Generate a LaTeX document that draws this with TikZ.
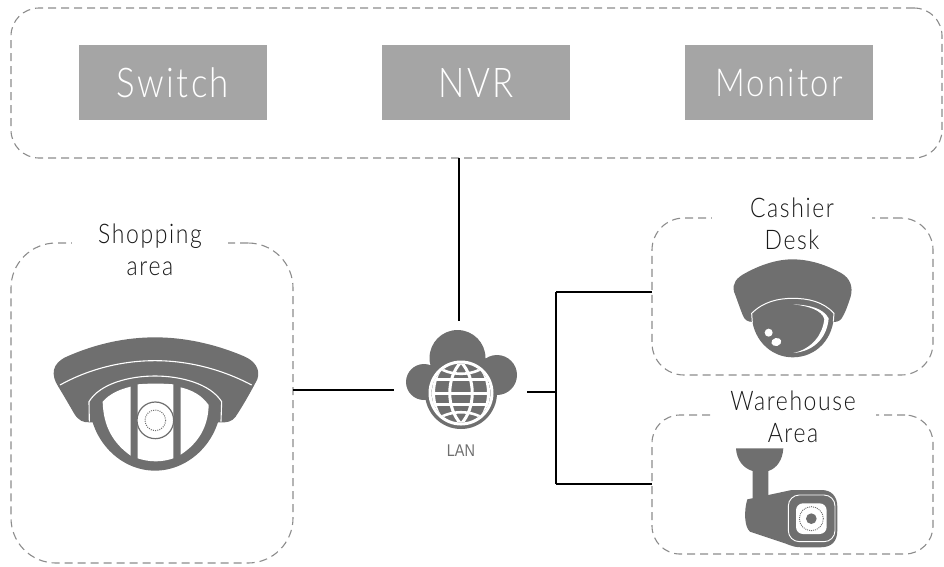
\documentclass[tikz,border=0pt]{standalone}
\usepackage{fontspec}
\setmainfont[FakeStretch=0.85,LetterSpace=6]{Lato Light}
\newfontfamily\lanfont[FakeStretch=0.85]{Liberation Sans}
\definecolor{cam}{HTML}{6F6F6F}
\definecolor{tile}{HTML}{A5A5A5}
\definecolor{dashc}{HTML}{8C8C8C}
\tikzset{
  zone/.style={draw=dashc,line width=1.1pt,dash pattern=on 8pt off 5pt,rectangle,inner sep=0,outer sep=0},
  tilebox/.style={fill=tile,text=white,minimum width=188pt,minimum height=75pt,inner sep=0,outer sep=0,font=\fontsize{41}{44}\selectfont},
  zlabel/.style={fill=white,align=center,text=black!90,inner sep=0,font=\fontsize{27}{32}\selectfont},
  wire/.style={draw=black,line width=1.2pt},
  shade/.style={fill=cam,draw=none},
  hole/.style={fill=white,draw=none},
}
\begin{document}
\begin{tikzpicture}[x=1pt,y=-1pt]
\useasboundingbox (0,0) rectangle (944,566);
% zones
\node[zone,rounded corners=28pt,minimum width=931pt,minimum height=150pt] (topzone) at (476.5,83) {};
\node[zone,rounded corners=45pt,minimum width=282pt,minimum height=320pt] (shopzone) at (152,403) {};
\node[zone,rounded corners=32pt,minimum width=281pt,minimum height=157pt] (cashzone) at (792.5,296.5) {};
\node[zone,rounded corners=28pt,minimum width=281pt,minimum height=139pt] (warezone) at (792.5,484.5) {};
% tiles
\node[tilebox] (switch) at (173,82.5) {Switch};
\node[tilebox] (nvr) at (476,82.5) {NVR};
\node[tilebox,font=\fontsize{38.5}{44}\selectfont] (monitor) at (779,82.5) {Monitor};
% labels
\node[fill=white,minimum width=156pt,minimum height=16pt,inner sep=0] (shopgap) at (150,243) {};
\node[fill=white,minimum width=160pt,minimum height=16pt,inner sep=0] (cashgap) at (792,218) {};
\node[fill=white,minimum width=165pt,minimum height=16pt,inner sep=0] (waregap) at (793,415) {};
\node[zlabel,fill=none] (shoplabel) at (150,249.5) {Shopping\\area};
\node[zlabel,fill=none] (cashlabel) at (792,224) {Cashier\\Desk};
\node[zlabel,fill=none] (warelabel) at (793,416.5) {Warehouse\\Area};
% cloud
\coordinate (lanc) at (461,393);
\fill[cam] (424,382) circle (18) (497,375) circle (20) (457.5,358) circle (28) (461,393) circle (36);
\fill[cam] (423,368) rectangle (497,395);
\begin{scope}
\clip (461,393) circle (29.5);
\fill[cam] (461,393) circle (29.5);
\draw[white,line width=3pt] (431,379) -- (491,379) (431,393) -- (491,393) (431,404) -- (491,404);
\draw[white,line width=3pt] (461,362) .. controls (446,378) and (446,408) .. (461,424);
\draw[white,line width=3pt] (461,362) .. controls (476,378) and (476,408) .. (461,424);
\draw[white,line width=2.6pt] (438,367) .. controls (450,376) and (472,376) .. (484,367);
\draw[white,line width=2.6pt] (438,419) .. controls (450,410) and (472,410) .. (484,419);
\draw[white,line width=3pt] (444,364) .. controls (430,380) and (430,406) .. (444,422);
\draw[white,line width=3pt] (478,364) .. controls (492,380) and (492,406) .. (478,422);
\end{scope}
\draw[white,line width=3pt] (461,393) circle (31);
\node[font=\lanfont\fontsize{17}{17}\selectfont,text=cam,inner sep=0] (lan) at (461,451) {LAN};
% connectors
\coordinate (lanup) at (459,321);
\coordinate (lanleft) at (394,390);
\coordinate (lanright) at (527,392);
\coordinate (busmid) at (556,392);
\coordinate (bustop) at (556,292);
\coordinate (busbot) at (556,484);
\draw[wire] (topzone.south -| lanup) -- (lanup);
\draw[wire] (lanleft -| shopzone.east) -- (lanleft);
\draw[wire] (lanright) -- (busmid);
\draw[wire] (bustop) -- (busbot);
\draw[wire] (bustop) -- (bustop -| cashzone.west);
\draw[wire] (busbot) -- (busbot -| warezone.west);
% dome camera, shopping area
\begin{scope}[shift={(30,330)},x=0.3333pt,y=-0.3333pt]
\path[shade] (110,80) .. controls (200,40) and (290,22) .. (375,22) .. controls (460,22) and (550,40) .. (640,78)
  .. controls (675,92) and (692,118) .. (682,148) .. controls (660,190) and (640,225) .. (617,260)
  .. controls (605,276) and (590,278) .. (570,277) -- (180,277) .. controls (160,278) and (145,272) .. (132,250)
  .. controls (115,220) and (100,195) .. (85,170) .. controls (62,135) and (65,100) .. (110,80) -- cycle;
\draw[white,line width=1.1pt] (90,165) .. controls (180,115) and (280,92) .. (375,92) .. controls (470,92) and (570,115) .. (665,165);
\path[shade] (178,215) .. controls (215,160) and (300,138) .. (375,138) .. controls (450,138) and (535,160) .. (574,215)
  .. controls (572,330) and (480,422) .. (375,422) .. controls (270,422) and (180,330) .. (178,215) -- cycle;
\draw[white,line width=1.1pt] (178,275) -- (177,215) .. controls (210,160) and (300,138) .. (375,138) .. controls (450,138) and (540,160) .. (575,215) -- (573,275);
\path[hole] (302,170) -- (302,377) .. controls (250,340) and (220,290) .. (218,215) .. controls (240,190) and (270,178) .. (302,170) -- cycle;
\path[hole] (323,163) .. controls (360,160) and (395,160) .. (430,163) -- (430,385) .. controls (395,397) and (360,397) .. (323,385) -- cycle;
\path[hole] (452,172) .. controls (485,180) and (515,195) .. (536,225) .. controls (535,290) and (505,340) .. (452,374) -- cycle;
\draw[fill=white,draw=cam,line width=1.2pt] (376,271) circle (55);
\draw[cam,line width=1pt,dash pattern=on 1pt off 1.2pt] (376,271) circle (31);
\end{scope}
% dome camera, cashier desk
\begin{scope}[shift={(710,255)},x=0.3333pt,y=-0.3333pt]
\path[shade] (105,55) .. controls (150,30) and (200,13) .. (247,13) .. controls (300,13) and (350,30) .. (395,55)
  .. controls (420,70) and (430,95) .. (422,125) .. controls (412,155) and (405,175) .. (395,190) .. controls (388,200) and (380,201) .. (365,201)
  -- (130,201) .. controls (112,201) and (104,195) .. (98,180) .. controls (88,155) and (80,130) .. (72,110) .. controls (66,85) and (80,68) .. (105,55) -- cycle;
\path[shade] (125,175) .. controls (160,140) and (205,130) .. (248,130) .. controls (295,130) and (340,140) .. (372,175)
  .. controls (372,250) and (320,307) .. (248,307) .. controls (180,307) and (125,250) .. (125,175) -- cycle;
\draw[white,line width=1pt] (127,203) -- (125,175) .. controls (160,140) and (205,130) .. (248,130) .. controls (295,130) and (340,140) .. (372,175) -- (370,200);
\path[hole] (250,148) .. controls (300,150) and (340,160) .. (356,190) .. controls (352,240) and (320,288) .. (250,294) .. controls (305,282) and (338,240) .. (343,192) .. controls (335,165) and (295,153) .. (250,148) -- cycle;
\fill[white] (176,233) circle (12);
\fill[white,rotate around={15:(199,261)}] (199,261) ellipse (15 and 12);
\end{scope}
% bullet camera, warehouse
\begin{scope}[shift={(720,440)},x=0.3333pt,y=-0.3333pt]
\path[shade] (48,25) -- (190,25) .. controls (188,60) and (170,85) .. (145,93) -- (145,170) -- (98,175) -- (98,93) .. controls (70,85) and (50,60) .. (48,25) -- cycle;
\path[shade] (82,178) -- (145,165) -- (215,150) -- (305,150) .. controls (335,150) and (352,170) .. (352,200) -- (352,270)
  .. controls (352,305) and (335,322) .. (300,322) -- (245,322) .. controls (225,322) and (215,318) .. (195,310) -- (90,275) .. controls (72,260) and (72,210) .. (82,178) -- cycle;
\draw[white,line width=.9pt,rounded corners=11pt] (205,165) rectangle (345,305);
\fill[white,rounded corners=7pt] (228,190) rectangle (320,282);
\draw[cam,line width=.9pt,dash pattern=on 1pt off 1pt] (274,236) circle (36);
\fill[cam] (274,236) circle (16);
\end{scope}
\end{tikzpicture}
\end{document}
